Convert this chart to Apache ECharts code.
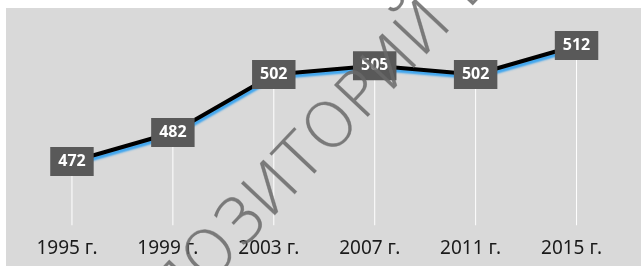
<!DOCTYPE html>
<html>
<head>
<meta charset="utf-8">
<script src="https://cdn.jsdelivr.net/npm/echarts@6/dist/echarts.min.js"></script>
<style>
html,body{margin:0;padding:0;background:#fff;}
#box{width:641px;height:266px;}
</style>
</head>
<body>
<div id="box"></div>
<script>
//годы и значения
var years = ['1995 г.', '1999 г.', '2003 г.', '2007 г.', '2011 г.', '2015 г.'];
var values = [472, 482, 502, 505, 502, 512];

var myChart = echarts.init(document.getElementById('box'));
var option = {
    animation: false,
    graphic: [
        {
            type: 'rect',
            z: -10,
            shape: {x: 6, y: 8, width: 635, height: 258},
            style: {fill: '#d9d9d9'}
        },
        {//водяной знак
            type: 'text',
            z: 100,
            x: 323,
            y: 140,
            rotation: Math.PI * 46.7 / 180,
            style: {
                text: 'РЕПОЗИТОРИЙ БГУ',
                font: '200 63px "DejaVu Sans"',
                fill: 'rgba(105,105,105,0.85)',
                stroke: 'rgba(105,105,105,0.5)',
                lineWidth: 0.8,
                align: 'center',
                verticalAlign: 'middle'
            }
        }
    ],
    grid: {left: 21.5, right: 14, top: 22.3, bottom: 40.7},
    xAxis: {
        type: 'category',
        data: years,
        axisLine: {show: false},
        axisTick: {show: false},
        axisLabel: {
            color: '#1a1a1a',
            fontFamily: 'Noto Sans',
            fontSize: 19,
            margin: 14,
            padding: [0, 10, 0, 0]
        }
    },
    yAxis: {
        type: 'value',
        min: 450,
        max: 520,
        show: false,
        splitLine: {show: false}
    },
    series: [
        {//линии до оси
            type: 'bar',
            data: values,
            barWidth: 1,
            itemStyle: {color: '#ffffff'},
            silent: true,
            z: 1
        },
        {
            type: 'line',
            data: values,
            symbol: 'circle',
            symbolSize: 1,
            itemStyle: {color: '#000'},
            lineStyle: {
                color: '#000',
                width: 4,
                shadowColor: '#3da5ef',
                shadowBlur: 2,
                shadowOffsetX: 1,
                shadowOffsetY: 3
            },
            label: {
                show: true,
                position: 'inside',
                color: '#fff',
                fontFamily: 'Noto Sans',
                fontWeight: 'bold',
                fontSize: 16,
                lineHeight: 17,
                backgroundColor: '#595959',
                padding: [6, 8, 6, 8]
            },
            z: 3
        }
    ]
};
myChart.setOption(option);
</script>
</body>
</html>
